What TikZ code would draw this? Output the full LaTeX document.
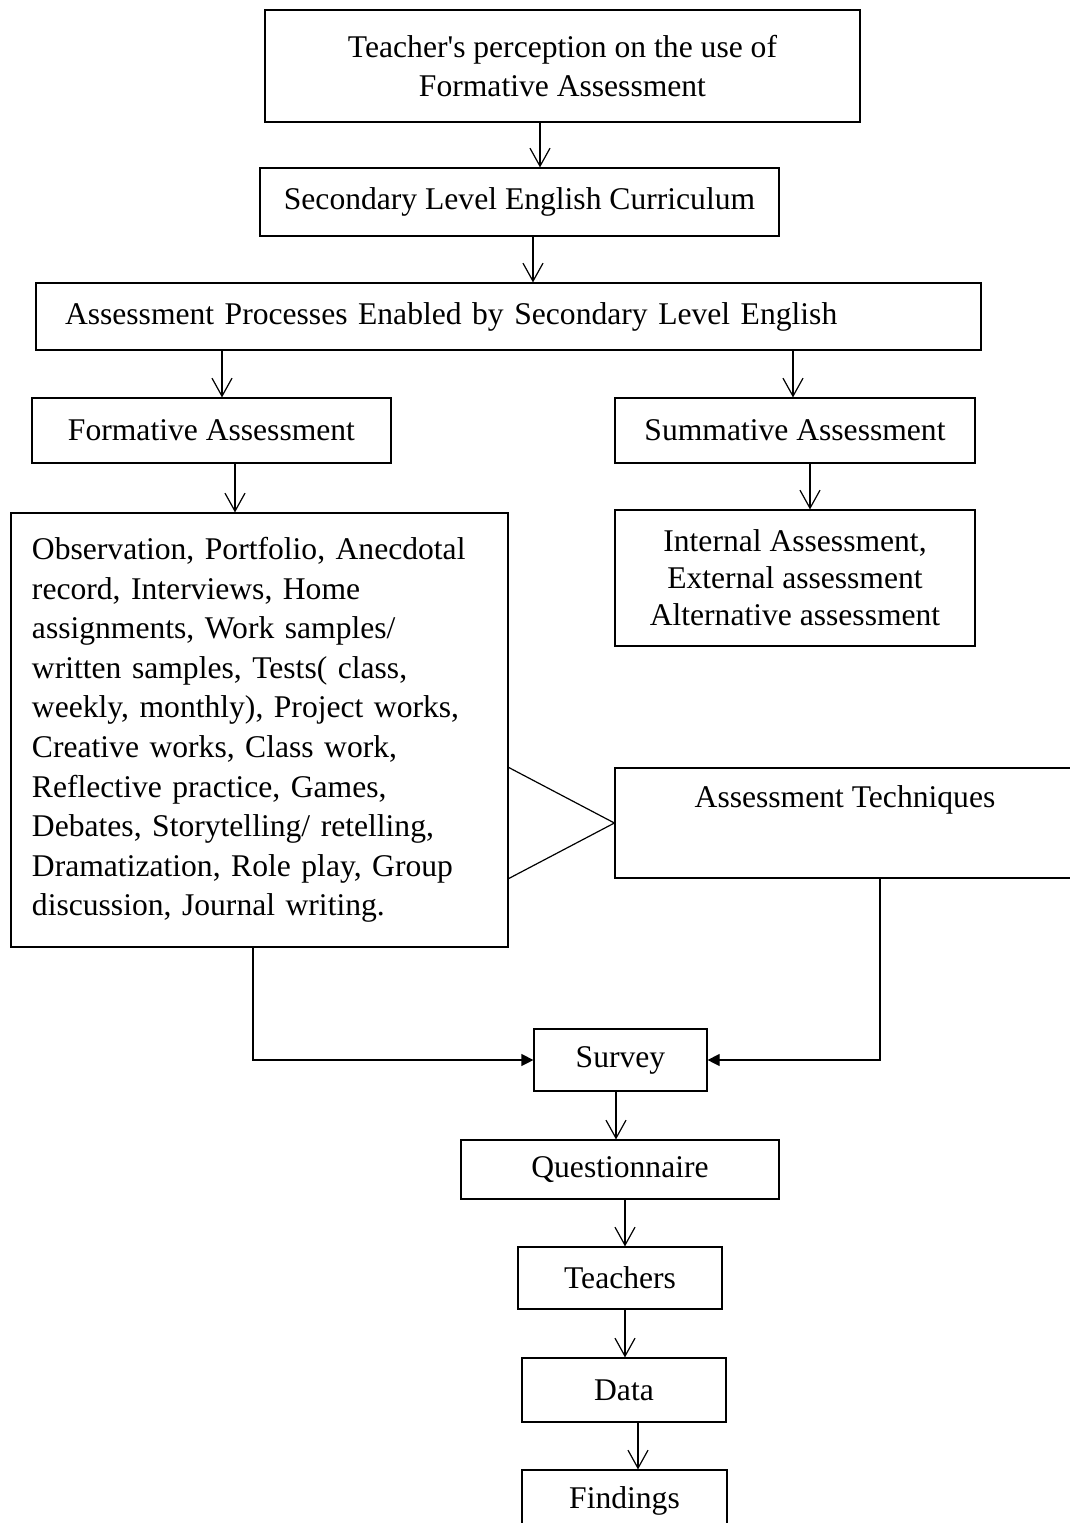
\documentclass[tikz,border=0pt]{standalone}
\usepackage{fontspec}
\setmainfont{Liberation Serif}
\usetikzlibrary{arrows.meta}

\tikzset{
    box/.style={draw, line width=0.6pt, inner sep=0pt, align=center,
        font=\fontsize{15.8}{19.5}\selectfont},
    arr/.style={line width=0.6pt, -{Straight Barb[length=9pt,width=10pt]}},
    farr/.style={line width=0.6pt, -{Triangle[length=6pt,width=6pt]}},
}

\begin{document}
\begin{tikzpicture}[x=0.5pt, y=-0.5pt]
        \useasboundingbox (0,0) rectangle (1070,1523);
        \clip (0,0) rectangle (1070,1523);

        % top part
        \node[box, minimum width=297.5pt, minimum height=56pt] (percep) at (562.5,66)
            {Teacher\textquotesingle s perception on the use of\\Formative Assessment};
        \node[box, minimum width=259.5pt, minimum height=34pt] (curric) at (519.5,202)
            {Secondary Level English Curriculum};
        \node[box, minimum width=472.5pt, minimum height=33.5pt, text width=443.5pt,
            align=left] (process) at (508.5,316.5)
            {Assessment Processes Enabled by Secondary Level English};

        % two kinds
        \node[box, minimum width=179.5pt, minimum height=32.5pt] (formative) at (211.5,430.5)
            {Formative Assessment};
        \node[box, minimum width=180pt, minimum height=32.5pt] (summative) at (795,430.5)
            {Summative Assessment};

        % tools
        \node[box, minimum width=248.5pt, minimum height=217pt, text width=227.5pt,
            align=left, font=\fontsize{15.8}{19.78}\selectfont] (tools) at (259.5,730)
            {Observation, Portfolio, Anecdotal\\
             record, Interviews, Home\\
             assignments, Work samples/\\
             written samples, Tests( class,\\
             weekly, monthly), Project works,\\
             Creative works, Class work,\\
             Reflective practice, Games,\\
             Debates, Storytelling/ retelling,\\
             Dramatization, Role play, Group\\
             discussion, Journal writing.};
        \node[box, minimum width=180pt, minimum height=68pt,
            font=\fontsize{15.8}{18.5}\selectfont] (kinds) at (795,578)
            {Internal Assessment,\\External assessment\\Alternative assessment};
        \node[box, minimum width=230pt, text height=19.5pt, text depth=35.5pt] (techniq) at (845,823)
            {Assessment Techniques};

        % bottom part
        \node[box, minimum width=86.5pt, minimum height=31pt] (survey) at (620.5,1060) {Survey};
        \node[box, minimum width=159pt, minimum height=29.5pt] (quest) at (620,1169.5) {Questionnaire};
        \node[box, minimum width=102pt, minimum height=31pt] (teachers) at (620,1278) {Teachers};
        \node[box, minimum width=102pt, minimum height=32pt] (data) at (624,1390) {Data};
        \node[box, minimum width=102.5pt, minimum height=31pt] (findings) at (624.5,1501) {Findings};

        % arrows
        \draw[arr] ([xshift=-11.25pt]percep.south) -- ([xshift=10.25pt]curric.north);
        \draw[arr] ([xshift=6.75pt]curric.south) -- ([xshift=12.25pt]process.north);
        \draw[arr] ([xshift=-143.25pt]process.south) -- ([xshift=5.25pt]formative.north);
        \draw[arr] ([xshift=142.25pt]process.south) -- ([xshift=-1pt]summative.north);
        \draw[arr] ([xshift=11.75pt]formative.south) -- ([xshift=-12.25pt]tools.north);
        \draw[arr] ([xshift=7.5pt]summative.south) -- ([xshift=7.5pt]kinds.north);

        % techniques
        \draw[line width=0.6pt] (tools.east |- techniq.north) -- (techniq.west) -- (tools.east |- techniq.south);

        % to survey
        \draw[farr] ([xshift=-3.25pt]tools.south) |- (survey.west);
        \draw[farr] ([xshift=17.5pt]techniq.south) |- (survey.east);

        \draw[arr] ([xshift=-2.25pt]survey.south) -- ([xshift=-2pt]quest.north);
        \draw[arr] ([xshift=2.5pt]quest.south) -- ([xshift=2.5pt]teachers.north);
        \draw[arr] ([xshift=2.5pt]teachers.south) -- ([xshift=0.5pt]data.north);
        \draw[arr] ([xshift=7pt]data.south) -- ([xshift=6.75pt]findings.north);
    \end{tikzpicture}
\end{document}
